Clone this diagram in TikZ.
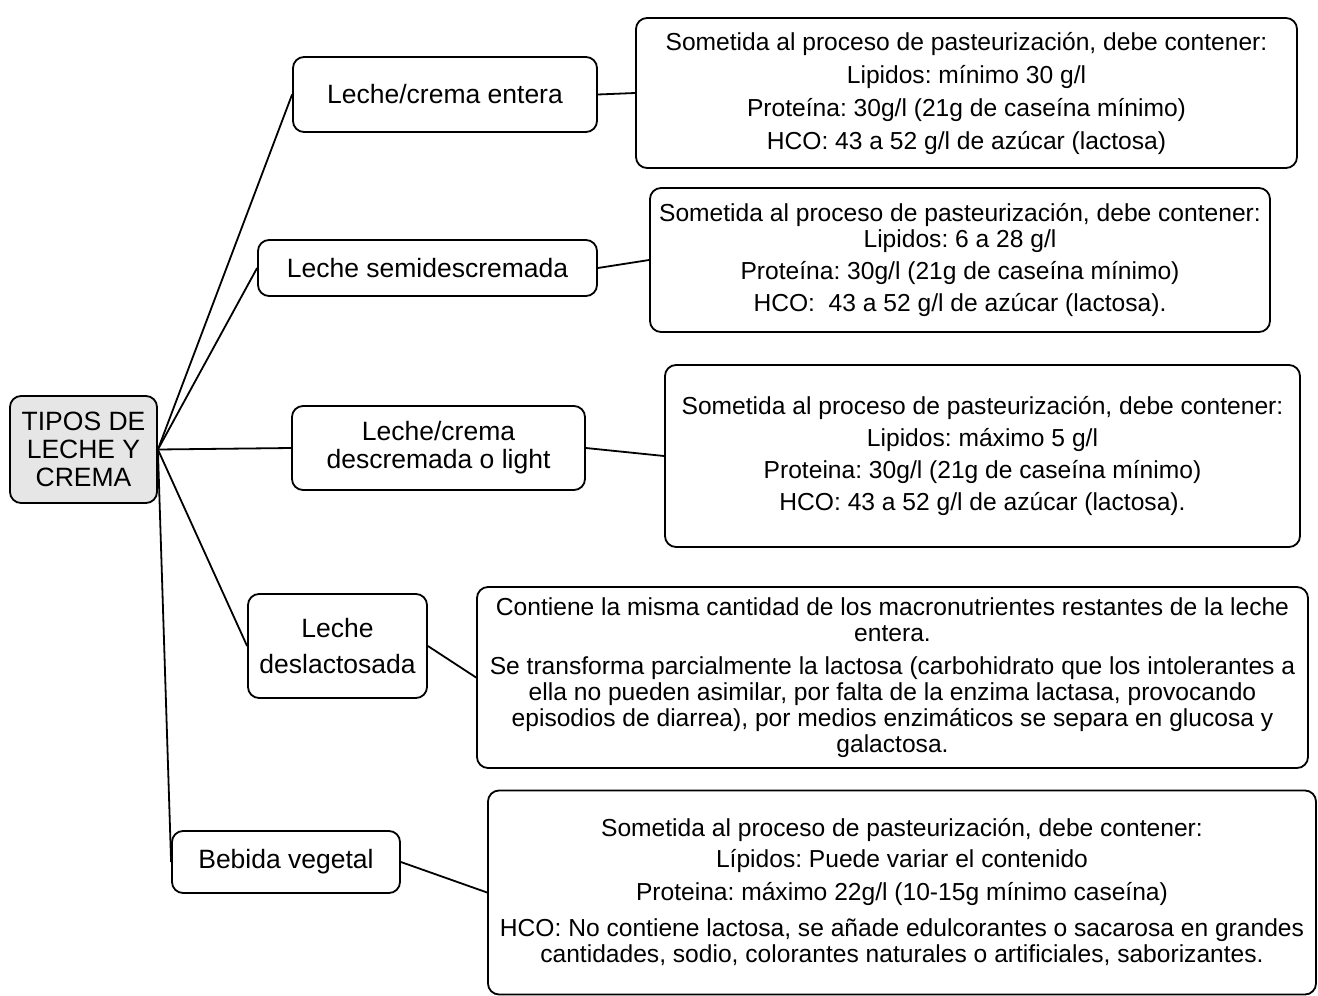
\documentclass[tikz,border=0pt]{standalone}
\usepackage{fontspec}
\setmainfont{Liberation Sans}
\frenchspacing
\definecolor{rootgray}{RGB}{230,230,230}
\tikzset{
  box/.style={draw=black, line width=1.8pt, rounded corners=11pt, fill=white, align=center, inner sep=0pt},
  childtext/.style={font={\frenchspacing\fontsize{26.5}{28}\selectfont}},
  detailtext/.style={font={\frenchspacing\fontsize{24.6}{26}\selectfont}},
  conn/.style={draw=black, line width=1.8pt}
}
\begin{document}
\begin{tikzpicture}[x=1pt,y=-1pt]
\useasboundingbox (0,0) rectangle (1318,996);

% root
\node[box, childtext, fill=rootgray, minimum width=147pt, minimum height=107pt] (root) at (83.5,449.5)
  {TIPOS DE\\LECHE Y\\CREMA};

% children
\node[box, childtext, minimum width=304pt, minimum height=75pt] (c1) at (445,94.5) {Leche/crema entera};
\node[box, childtext, minimum width=339pt, minimum height=56pt] (c2) at (427.5,268) {Leche semidescremada};
\node[box, childtext, minimum width=293pt, minimum height=84pt] (c3) at (438.5,448) {Leche/crema\\descremada o light};
\node[box, childtext, minimum width=179pt, minimum height=104pt] (c4) at (337.5,646) {Leche\\[8pt]deslactosada};
\node[box, childtext, minimum width=228pt, minimum height=62pt] (c5) at (286,862) {Bebida vegetal};

% details
\node[box, detailtext, minimum width=661pt, minimum height=150pt] (d1) at (966.5,93)
  {Sometida al proceso de pasteurización, debe contener:\\[7pt]
   Lipidos: mínimo 30 g/l\\[7pt]
   Proteína: 30g/l (21g de caseína mínimo)\\[7pt]
   HCO: 43 a 52 g/l de azúcar (lactosa)};
\node[box, detailtext, minimum width=620pt, minimum height=144pt] (d2) at (960,260)
  {Sometida al proceso de pasteurización, debe contener:\\
   Lipidos: 6 a 28 g/l\\[6pt]
   Proteína: 30g/l (21g de caseína mínimo)\\[6pt]
   HCO:\ \ 43 a 52 g/l de azúcar (lactosa).};
\node[box, detailtext, minimum width=635pt, minimum height=182pt] (d3) at (982.5,456)
  {Sometida al proceso de pasteurización, debe contener:\\[6pt]
   Lipidos: máximo 5 g/l\\[6pt]
   Proteina: 30g/l (21g de caseína mínimo)\\[6pt]
   HCO: 43 a 52 g/l de azúcar (lactosa).};
\node[box, detailtext, minimum width=831pt, minimum height=181pt] (d4) at (892.5,677.5)
  {Contiene la misma cantidad de los macronutrientes restantes de la leche\\
   entera.\\[7pt]
   Se transforma parcialmente la lactosa (carbohidrato que los intolerantes a\\
   ella no pueden asimilar, por falta de la enzima lactasa, provocando\\
   episodios de diarrea), por medios enzimáticos se separa en glucosa y\\
   galactosa.};
\node[box, detailtext, minimum width=828pt, minimum height=204pt] (d5) at (902,892.5)
  {\\[-8pt]Sometida al proceso de pasteurización, debe contener:\\[5pt]
   Lípidos: Puede variar el contenido\\[7pt]
   Proteina: máximo 22g/l (10-15g mínimo caseína)\\[10pt]
   HCO: No contiene lactosa, se añade edulcorantes o sacarosa en grandes\\
   cantidades, sodio, colorantes naturales o artificiales, saborizantes.};

% connectors
\foreach \c in {c1,c2,c3,c4,c5} {
  \draw[conn] (root.east) -- (\c.west);
}
\draw[conn] (c1.east) -- (d1.west);
\draw[conn] (c2.east) -- (d2.west);
\draw[conn] (c3.east) -- (d3.west);
\draw[conn] (c4.east) -- (d4.west);
\draw[conn] (c5.east) -- (d5.west);
\end{tikzpicture}
\end{document}
